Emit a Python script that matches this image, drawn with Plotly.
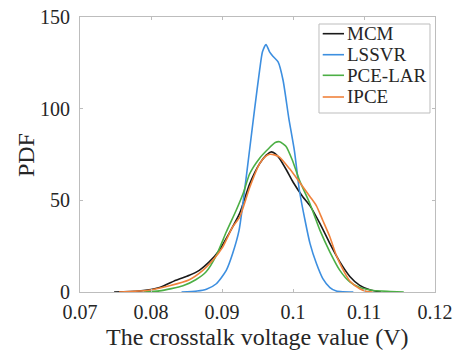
import plotly.graph_objects as go

# ---- data ----
mcm_x = [0.0748, 0.0783, 0.0812, 0.0835, 0.0854, 0.0868, 0.0882, 0.0896, 0.0910, 0.0925,
         0.0939, 0.0953, 0.0962, 0.0969, 0.0975, 0.0981, 0.0991, 0.1000, 0.1014, 0.1024,
         0.1038, 0.1052, 0.1066, 0.1080, 0.1094, 0.1108, 0.1124]
mcm_y = [0, 0.5, 2.4, 6.4, 9.1, 11.8, 16.4, 22.7, 32, 43,
         59, 70, 74.5, 76.4, 75.5, 72.8, 66.4, 60, 51.8, 47,
         37.3, 26.4, 16.4, 8.5, 3.6, 1.2, 0]

lssvr_x = [0.0843, 0.0865, 0.0878, 0.0892, 0.0906, 0.0915, 0.0924, 0.0932, 0.0939, 0.0946,
           0.0953, 0.0957, 0.0962, 0.0967, 0.0972, 0.0979, 0.0986, 0.0994, 0.1002, 0.1009,
           0.1017, 0.1024, 0.1033, 0.1042, 0.1052, 0.1061, 0.1070, 0.1085]
lssvr_y = [0, 0.5, 1.5, 4.5, 11.8, 21, 33.6, 56, 78, 100,
           121, 131, 135, 131, 128.5, 125.5, 115.5, 95, 77, 55.5,
           39, 26.4, 15.5, 7.3, 2.4, 0.5, 0.1, 0]

pce_x = [0.0790, 0.0812, 0.0845, 0.0863, 0.0878, 0.0892, 0.0906, 0.0920, 0.0930, 0.0939,
         0.0953, 0.0965, 0.0975, 0.0981, 0.0990, 0.0999, 0.1009, 0.1024, 0.1038, 0.1052,
         0.1066, 0.1080, 0.1094, 0.1113, 0.1137, 0.1156]
pce_y = [0, 0.6, 3.4, 6.7, 11.2, 20, 32.7, 44.6, 54, 64.5,
         73, 78, 81.5, 82, 79.5, 72, 61, 48, 33.6, 21.8,
         11.8, 5.5, 2.4, 0.8, 0.3, 0]

ipce_x = [0.0755, 0.0797, 0.0826, 0.0854, 0.0873, 0.0887, 0.0901, 0.0915, 0.0925, 0.0939,
          0.0953, 0.0961, 0.0967, 0.0974, 0.0981, 0.0995, 0.1009, 0.1024, 0.1033, 0.1042,
          0.1052, 0.1061, 0.1071, 0.1080, 0.1094, 0.1104, 0.1112]
ipce_y = [0, 1, 3.4, 6.7, 11.8, 17.3, 24.5, 35.5, 41, 57,
          70, 73.8, 75.1, 74.8, 73.6, 67.3, 60, 52, 47, 39,
          30, 20, 11.8, 6, 1.8, 0.3, 0]

series_names = ["MCM", "LSSVR", "PCE-LAR", "IPCE"]
series_x = [mcm_x, lssvr_x, pce_x, ipce_x]
series_y = [mcm_y, lssvr_y, pce_y, ipce_y]
series_colors = ["#1a1a1a", "#3d8fe0", "#4caf45", "#f0823c"]

x_ticks = [0.07, 0.08, 0.09, 0.10, 0.11, 0.12]
x_ticktext = ["0.07", "0.08", "0.09", "0.1", "0.11", "0.12"]
y_ticks = [0, 50, 100, 150]
x_title = "The crosstalk voltage value (V)"
y_title = "PDF"

FONT = "Liberation Serif, Times New Roman, serif"
TXT = "#262626"
AX = "#bdbdbd"

fig = go.Figure()
for name, xs, ys, c in zip(series_names, series_x, series_y, series_colors):
    fig.add_trace(go.Scatter(x=xs, y=ys, mode="lines", name=name,
                             line=dict(color=c, width=1.6, shape="spline", smoothing=0.6),
                             showlegend=False))

# manual legend box (MATLAB style)
lx0, lx1, ly0, ly1 = 0.6732, 0.9859, 0.6509, 0.9745
fig.add_shape(type="rect", xref="paper", yref="paper", x0=lx0, x1=lx1, y0=ly0, y1=ly1,
              line=dict(color=AX, width=1), fillcolor="white", layer="above")
rows = [0.9393, 0.8629, 0.7880, 0.7091]
for name, c, ry in zip(series_names, series_colors, rows):
    fig.add_shape(type="line", xref="paper", yref="paper", x0=0.6837, x1=0.7437, y0=ry, y1=ry,
                  line=dict(color=c, width=1.6), layer="above")
    fig.add_annotation(x=0.7465, y=ry, xref="paper", yref="paper", text=name, showarrow=False,
                       xanchor="left", yanchor="middle", font=dict(family=FONT, size=19, color=TXT))

# axis titles as annotations (exact placement)
fig.add_annotation(x=0.501, y=-0.1636, xref="paper", yref="paper", text=x_title, showarrow=False,
                   xanchor="center", yanchor="middle", font=dict(family=FONT, size=24, color=TXT))
fig.add_annotation(x=-0.152, y=0.498, xref="paper", yref="paper", text=y_title, showarrow=False,
                   textangle=-90, xanchor="center", yanchor="middle",
                   font=dict(family=FONT, size=24, color=TXT))

fig.update_layout(
    width=459, height=352, autosize=False,
    margin=dict(l=80, r=24, t=17, b=60),
    paper_bgcolor="white", plot_bgcolor="white",
    font=dict(family=FONT, size=20, color=TXT),
)
fig.update_xaxes(range=[0.07, 0.12], tickvals=x_ticks, ticktext=x_ticktext, automargin=False,
                 ticks="inside", ticklen=3, tickcolor=AX, showline=True, linecolor=AX,
                 linewidth=1, mirror="ticks", showgrid=False, zeroline=False,
                 ticklabeloverflow="allow",
                 tickfont=dict(family=FONT, size=20, color=TXT), ticklabelstandoff=2)
fig.update_yaxes(range=[0, 150], tickvals=y_ticks, automargin=False,
                 ticks="inside", ticklen=3, tickcolor=AX, showline=True, linecolor=AX,
                 linewidth=1, mirror="ticks", showgrid=False, zeroline=False,
                 ticklabeloverflow="allow",
                 tickfont=dict(family=FONT, size=20, color=TXT), ticklabelstandoff=5)

# remove the default 8px page margin so the figure fills the window exactly
fig.write_html("out.html", config={"displayModeBar": False},
               post_script="document.body.style.margin='0px';")
